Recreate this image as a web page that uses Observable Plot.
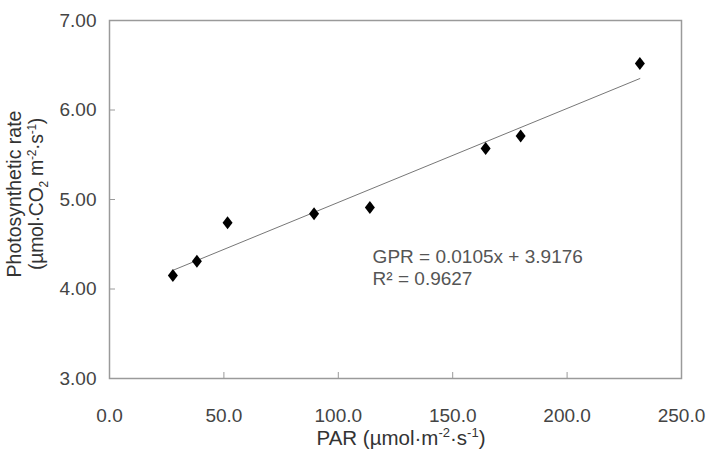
<!DOCTYPE html>
<html>
<head>
<meta charset="utf-8">
<script src="https://cdn.jsdelivr.net/npm/d3@7"></script>
<script src="https://cdn.jsdelivr.net/npm/@observablehq/plot@0.6"></script>
<style>
  html, body { margin: 0; padding: 0; background: #fff; }
  #chart svg { display: block; }
</style>
</head>
<body>
<div id="chart"></div>
<script>
// PAR (µmol·m-2·s-1) and gross photosynthetic rate (µmol·CO2 m-2·s-1)
const par  = [27.7, 38.2, 51.6, 89.4, 113.8, 164.4, 179.7, 231.8];
const rate = [4.15, 4.31, 4.74, 4.84, 4.91, 5.57, 5.71, 6.52];

// Linear fit reported on the chart
const slope = 0.0105;
const intercept = 3.9176;
const r2 = 0.9627;

const xTicks = [0, 50, 100, 150, 200, 250];
const yTicks = [3, 4, 5, 6, 7];

const points = par.map((x, i) => ({x, y: rate[i]}));
const xMin = d3.min(par), xMax = d3.max(par);
const fitLine = [xMin, xMax].map(x => ({x, y: slope * x + intercept}));

// Equation annotation anchor (data units)
const noteX = [115];
const noteY = [4.465];
const noteText = [`GPR = ${slope.toFixed(4)}x + ${intercept.toFixed(4)}\nR\u00b2 = ${r2.toFixed(4)}`];

// Tall diamond marker
const tallDiamond = {
  draw(context, size) {
    const r = Math.sqrt(size / Math.PI);
    const hw = r, hh = r * 1.3;
    context.moveTo(0, -hh);
    context.lineTo(hw, 0);
    context.lineTo(0, hh);
    context.lineTo(-hw, 0);
    context.closePath();
  }
};

const font = "'Liberation Sans', Arial, sans-serif";

const chart = Plot.plot({
  width: 710,
  height: 454,
  marginLeft: 109,
  marginRight: 29,
  marginTop: 20,
  marginBottom: 76,
  style: {fontFamily: font, fontSize: "19px", color: "#444", background: "#fff"},
  x: {domain: [0, 250]},
  y: {domain: [3, 7]},
  marks: [
    Plot.frame({stroke: "#9a9a9a", strokeWidth: 1.5}),
    Plot.axisX({
      ticks: xTicks, tickSize: -6, tickPadding: 36, stroke: "#9a9a9a",
      tickFormat: d => d.toFixed(1), label: null, fill: "#444", fontSize: 19,
      style: {letterSpacing: "-1.2px"}
    }),
    Plot.axisY({
      anchor: "left", ticks: yTicks, tickSize: -6, tickPadding: 19, stroke: "#9a9a9a",
      tickFormat: d => d.toFixed(2), label: null, fill: "#444", fontSize: 19,
      style: {letterSpacing: "-1.2px"}
    }),
    Plot.line(fitLine, {x: "x", y: "y", stroke: "#777", strokeWidth: 1}),
    Plot.dot(points, {x: "x", y: "y", symbol: tallDiamond, r: 5, fill: "#000", stroke: "none"}),
    Plot.text(noteText, {
      x: () => noteX[0], y: () => noteY[0], text: d => d,
      textAnchor: "start", lineAnchor: "top", lineHeight: 1.16,
      fill: "#555", fontSize: 19
    })
  ]
});

document.getElementById("chart").append(chart);

// Axis titles with sub/superscripts
const svg = d3.select(chart);
const xs = chart.scale("x"), ys = chart.scale("y");
const cx = (xs.apply(0) + xs.apply(250)) / 2;
const cy = (ys.apply(3) + ys.apply(7)) / 2;

const xTitle = svg.append("text")
  .attr("x", cx + 6).attr("y", 445)
  .attr("text-anchor", "middle")
  .attr("fill", "#333")
  .style("font-family", font).style("font-size", "20.5px");
xTitle.append("tspan").text("PAR (\u00b5mol\u00b7m");
xTitle.append("tspan").attr("dy", -8).style("font-size", "13px").text("-2");
xTitle.append("tspan").attr("dy", 8).text("\u00b7s");
xTitle.append("tspan").attr("dy", -8).style("font-size", "13px").text("-1");
xTitle.append("tspan").attr("dy", 8).text(")");

const yTitle = svg.append("g")
  .attr("transform", `translate(0,${cy - 5}) rotate(-90)`)
  .attr("fill", "#333")
  .style("font-family", font).style("font-size", "19.5px");
yTitle.append("text").attr("x", 0).attr("y", 21)
  .attr("text-anchor", "middle").text("Photosynthetic rate");
const y2 = yTitle.append("text").attr("x", 0).attr("y", 43).attr("text-anchor", "middle")
  .style("letter-spacing", "-0.3px");
y2.append("tspan").text("(\u00b5mol\u00b7CO");
y2.append("tspan").attr("dy", 5).style("font-size", "12px").text("2");
y2.append("tspan").attr("dy", -5).text(" m");
y2.append("tspan").attr("dy", -7).style("font-size", "12px").text("-2");
y2.append("tspan").attr("dy", 7).text("\u00b7s");
y2.append("tspan").attr("dy", -7).style("font-size", "12px").text("-1");
y2.append("tspan").attr("dy", 7).text(")");
</script>
</body>
</html>
